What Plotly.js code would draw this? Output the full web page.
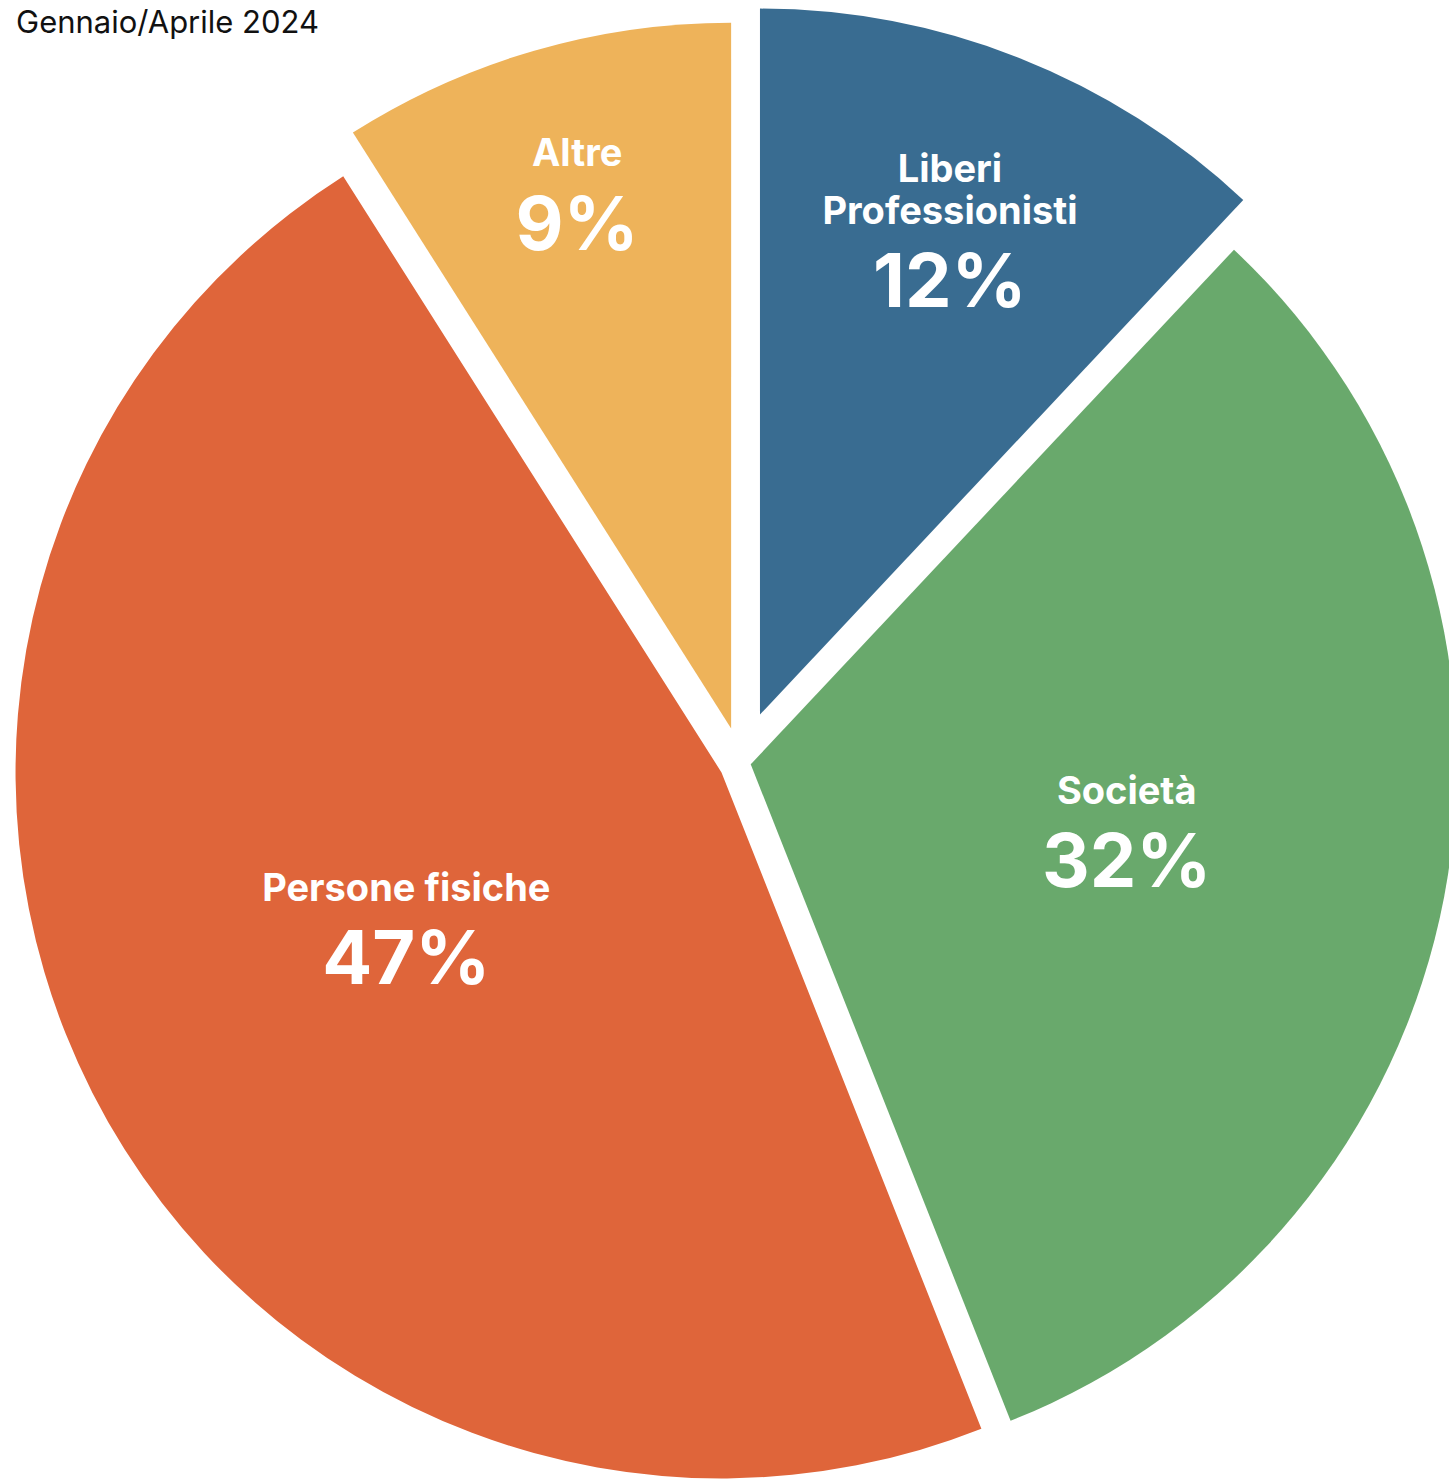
<!DOCTYPE html>
<html>
<head>
<meta charset="utf-8">
<script src="https://cdn.plot.ly/plotly-3.0.1.min.js"></script>
<style>
  html, body { margin: 0; padding: 0; background: #ffffff; overflow: hidden; }
  #chart { position: absolute; left: -24px; top: 0; }
</style>
</head>
<body>
<div id="chart"></div>
<script>
// Data
const labels = ["Liberi<br>Professionisti", "Società", "Persone fisiche", "Altre"];
const values = [12, 32, 47, 9];
const colors = ["#396c91", "#69a96c", "#df653a", "#eeb35a"];
const pulls = [0.073, 0.014, 0.031, 0.05];
const chartTitle = "Gennaio/Aprile 2024";

const W = 1530, H = 1530, SHIFT = 24;

const trace = {
  type: "pie",
  labels: labels,
  values: values,
  sort: false,
  direction: "clockwise",
  rotation: 0,
  pull: pulls,
  marker: { colors: colors, line: { width: 0 } },
  textposition: "inside",
  insidetextorientation: "horizontal",
  texttemplate: "<span style='font-size:38px'>%{label}</span><br><br><span style='font-size:74px'>%{percent:.0%}</span>",
  insidetextfont: { family: "Inter, 'Open Sans', sans-serif", size: 32, color: "#ffffff", weight: 700 },
  hoverinfo: "none",
  showlegend: false
};

const layout = {
  width: W,
  height: H,
  margin: { l: 0, r: 0, t: 5, b: 10 },
  paper_bgcolor: "#ffffff",
  plot_bgcolor: "#ffffff",
  showlegend: false,
  title: {
    text: chartTitle,
    xref: "container",
    yref: "container",
    x: (16 + SHIFT) / W,
    xanchor: "left",
    y: 1 - 11 / H,
    yanchor: "top",
    font: { family: "Inter, 'Liberation Sans', sans-serif", size: 31, color: "#111111", weight: 400 }
  }
};

Plotly.newPlot("chart", [trace], layout, { displayModeBar: false, staticPlot: true });
</script>
</body>
</html>
